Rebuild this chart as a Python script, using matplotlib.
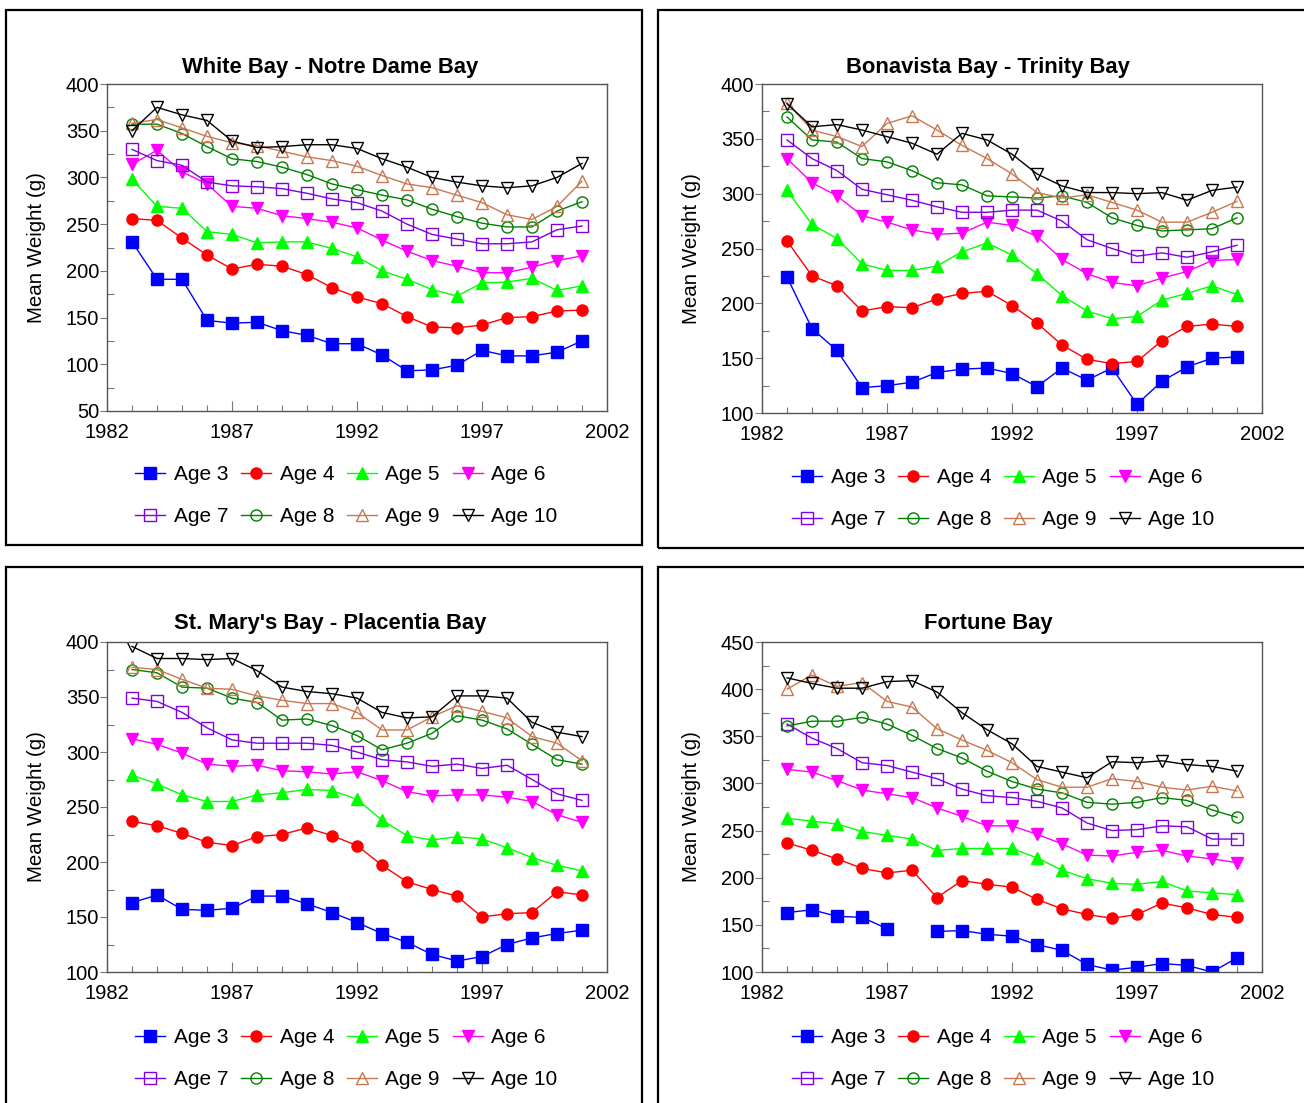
import numpy as np
import matplotlib
matplotlib.use('Agg')
import matplotlib.pyplot as plt
from matplotlib.patches import Rectangle
from matplotlib.ticker import MultipleLocator

plt.rcParams['font.family'] = ['Liberation Sans', 'DejaVu Sans']

years = list(range(1983, 2002))
ages = ['Age 3', 'Age 4', 'Age 5', 'Age 6', 'Age 7', 'Age 8', 'Age 9', 'Age 10']
nan = np.nan

# White Bay - Notre Dame Bay
wb = [
    [231, 191, 191, 147, 144, 145, 136, 131, 122, 122, 110, 93, 94, 99, 115, 109, 109, 113, 125],
    [256, 254, 235, 217, 202, 207, 205, 196, 182, 172, 165, 151, 140, 139, 142, 150, 151, 157, 158],
    [298, 269, 267, 242, 239, 230, 231, 231, 224, 215, 200, 191, 180, 173, 187, 188, 192, 179, 184],
    [314, 329, 306, 293, 269, 267, 259, 256, 252, 246, 233, 221, 211, 205, 198, 198, 204, 211, 216],
    [330, 318, 313, 295, 291, 290, 288, 283, 277, 273, 264, 250, 239, 234, 229, 229, 231, 244, 248],
    [357, 357, 347, 333, 320, 317, 311, 303, 293, 287, 281, 276, 266, 258, 251, 247, 247, 264, 274],
    [358, 362, 353, 344, 337, 334, 328, 322, 318, 312, 302, 293, 289, 281, 273, 260, 255, 269, 296],
    [350, 375, 367, 361, 339, 332, 333, 335, 335, 331, 320, 311, 300, 295, 291, 289, 291, 300, 315],
]
# Bonavista Bay - Trinity Bay
bb = [
    [224, 177, 157, 123, 125, 128, 137, 140, 141, 136, 124, 141, 130, 141, 108, 129, 142, 150, 151],
    [257, 225, 216, 193, 197, 196, 204, 209, 211, 198, 182, 162, 149, 145, 147, 166, 179, 181, 179],
    [303, 272, 259, 236, 230, 230, 234, 247, 255, 244, 227, 207, 193, 186, 188, 203, 209, 216, 208],
    [332, 310, 298, 280, 274, 267, 263, 264, 274, 271, 261, 240, 227, 219, 216, 223, 229, 239, 240],
    [349, 332, 321, 304, 299, 294, 288, 283, 283, 285, 285, 275, 258, 250, 243, 246, 242, 247, 253],
    [370, 349, 347, 332, 329, 321, 310, 308, 298, 297, 296, 298, 292, 278, 271, 266, 267, 268, 278],
    [383, 358, 352, 343, 364, 371, 358, 344, 332, 318, 301, 296, 299, 292, 285, 274, 274, 283, 293],
    [382, 361, 363, 358, 352, 346, 336, 355, 349, 336, 318, 307, 301, 301, 300, 301, 294, 303, 306],
]
# St. Mary's Bay - Placentia Bay
sm = [
    [163, 170, 157, 156, 158, 169, 169, 162, 154, 145, 135, 127, 116, 110, 114, 125, 131, 135, 138],
    [237, 233, 226, 218, 215, 223, 225, 231, 224, 215, 197, 182, 175, 169, 150, 153, 154, 173, 170],
    [279, 271, 261, 255, 255, 261, 263, 266, 265, 257, 238, 224, 220, 223, 221, 213, 204, 197, 192],
    [312, 307, 299, 289, 287, 288, 283, 282, 280, 282, 274, 264, 260, 261, 261, 259, 255, 243, 236],
    [349, 346, 336, 322, 311, 308, 308, 308, 306, 300, 293, 291, 287, 289, 285, 288, 275, 262, 256],
    [375, 372, 359, 358, 349, 345, 329, 330, 324, 315, 302, 308, 317, 333, 329, 321, 307, 293, 289],
    [377, 375, 366, 358, 357, 351, 347, 344, 344, 336, 320, 320, 332, 342, 337, 331, 314, 308, 292],
    [396, 385, 385, 384, 385, 374, 359, 355, 353, 349, 336, 331, 332, 351, 351, 349, 327, 318, 314],
]
# Fortune Bay
fb = [
    [163, 166, 159, 158, 146, nan, 143, 144, 140, 138, 129, 123, 108, 102, 105, 109, 107, 100, 115],
    [237, 229, 220, 210, 205, 208, 179, 197, 193, 190, 177, 167, 161, 157, 161, 173, 168, 161, 158],
    [263, 260, 257, 249, 245, 241, 229, 231, 231, 231, 221, 208, 199, 194, 193, 196, 186, 184, 182],
    [315, 312, 303, 293, 289, 285, 274, 265, 255, 255, 246, 236, 224, 223, 227, 229, 223, 220, 216],
    [363, 348, 337, 322, 319, 312, 305, 294, 287, 285, 281, 274, 258, 250, 251, 255, 254, 241, 241],
    [361, 366, 366, 370, 363, 351, 337, 327, 313, 302, 294, 290, 280, 278, 280, 285, 282, 272, 264],
    [400, 415, 403, 407, 387, 381, 358, 346, 335, 322, 304, 296, 296, 305, 302, 296, 293, 297, 292],
    [412, 406, 401, 401, 408, 409, 397, 375, 357, 342, 318, 312, 306, 323, 322, 324, 320, 318, 313],
]

titles = ['White Bay - Notre Dame Bay', 'Bonavista Bay - Trinity Bay',
          "St. Mary's Bay - Placentia Bay", 'Fortune Bay']

colors = ['#0000FF', '#FF0000', '#00FF00', '#FF00FF', '#7F00E0', '#008000', '#C87850', '#000000']
markers = ['s', 'o', '^', 'v', 's', 'o', '^', 'v']
filled = [True, True, True, True, False, False, False, False]

W, H = 1304, 1103
fig = plt.figure(figsize=(W / 100, H / 100), dpi=100)


def fbox(l, t, r, b):
    return [l / W, 1 - b / H, (r - l) / W, (b - t) / H]


# axes box, panel frame, ylim, legend top-left, title centre (pixels)
panels = [
    ((107, 84, 607, 411), (6, 10, 642, 545), (50, 400), (135, 465), (330, 67), wb),
    ((762, 84, 1262, 413), (658, 10, 1310, 548), (100, 400), (792, 468), (988, 67), bb),
    ((107, 642, 607, 972), (6, 567, 642, 1110), (100, 400), (135, 1028), (330, 624), sm),
    ((762, 642, 1262, 972), (658, 567, 1310, 1110), (100, 450), (792, 1028), (988, 624), fb),
]

for i, (abox, frame, ylim, legpos, tpos, data) in enumerate(panels):
    l, t, r, b = frame
    fig.patches.append(Rectangle((l / W, 1 - b / H), (r - l) / W, (b - t) / H,
                                 transform=fig.transFigure, fill=False,
                                 edgecolor='black', linewidth=1.6))
    ax = fig.add_axes(fbox(*abox))
    handles = []
    for k in range(8):
        mfc = colors[k] if filled[k] else 'none'
        ms = 8 if markers[k] in ('s', 'o') else 9
        h, = ax.plot(years, data[k], color=colors[k], marker=markers[k], markersize=ms,
                     markerfacecolor=mfc, markeredgecolor=colors[k], markeredgewidth=1.0,
                     linewidth=1.0, label=ages[k])
        handles.append(h)
    ax.set_xlim(1982, 2002)
    ax.set_ylim(*ylim)
    ax.set_xticks(range(1982, 2003, 5))
    ax.xaxis.set_minor_locator(MultipleLocator(1))
    ax.yaxis.set_major_locator(MultipleLocator(50))
    ax.yaxis.set_minor_locator(MultipleLocator(25))
    ax.tick_params(axis='x', which='major', direction='in', length=7, width=0.8,
                   color='#777777', labelsize=14.5, pad=8.5)
    ax.tick_params(axis='x', which='minor', direction='in', length=4, width=0.8,
                   color='#777777')
    ax.tick_params(axis='y', which='major', direction='out', length=5, width=0.8,
                   color='#777777', labelsize=14.5, pad=0.5)
    ax.tick_params(axis='y', which='minor', direction='in', length=5, width=0.8,
                   color='#777777')
    for s in ax.spines.values():
        s.set_color('#555555')
        s.set_linewidth(1.0)
    fig.text(tpos[0] / W, 1 - tpos[1] / H, titles[i], fontsize=15.8, fontweight='bold',
             ha='center', va='center')
    ax.set_ylabel('Mean Weight (g)', fontsize=14.8)
    ax.yaxis.set_label_coords(-0.122, 0.5)
    order = [0, 4, 1, 5, 2, 6, 3, 7]
    ax.legend([handles[j] for j in order], [ages[j] for j in order],
              loc='upper left', bbox_to_anchor=(legpos[0] / W, 1 - legpos[1] / H),
              bbox_transform=fig.transFigure, ncol=4, frameon=False, fontsize=15,
              handlelength=1.45, handletextpad=0.4, columnspacing=0.62,
              labelspacing=1.1, borderpad=0, borderaxespad=0)

fig.savefig('out.png', dpi=100)
